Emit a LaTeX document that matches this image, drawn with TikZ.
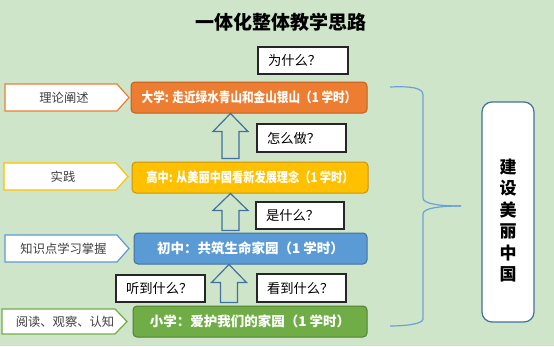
\documentclass[tikz,border=0pt]{standalone}
\usepackage{fontspec}
\usetikzlibrary{calc}
\setmainfont{Noto Sans CJK SC}
\definecolor{bgc}{RGB}{207,229,201}
\definecolor{orangeF}{RGB}{237,125,49}
\definecolor{orangeD}{RGB}{190,95,35}
\definecolor{yellowF}{RGB}{255,192,0}
\definecolor{yellowD}{RGB}{200,150,10}
\definecolor{blueF}{RGB}{91,155,213}
\definecolor{blueD}{RGB}{65,113,156}
\definecolor{greenF}{RGB}{112,173,71}
\definecolor{greenD}{RGB}{80,126,50}
\definecolor{txtgray}{RGB}{64,64,64}
\definecolor{arrowc}{RGB}{65,113,156}
\definecolor{bracec}{RGB}{110,160,215}
\begin{document}
\begin{tikzpicture}[x=1pt,y=-1pt,
  mainbox/.style={rounded corners=4pt, line width=1pt, minimum height=31pt, inner sep=0pt, text=white, font=\fontsize{13.5}{15}\selectfont\bfseries},
  pent/.style={fill=white, line width=1.2pt},
  ptext/.style={text=txtgray, font=\fontsize{12.3}{14}\selectfont, inner sep=0pt},
  qbox/.style={draw=black!85, line width=1.2pt, fill=white, inner sep=0pt, align=left, font=\fontsize{13.3}{15}\selectfont},
  barrow/.style={draw=arrowc, line width=1.2pt, line join=miter},
  bracel/.style={draw=bracec, line width=1.2pt}]
\fill[bgc] (0,0) rectangle (554,346);
\useasboundingbox (0,0) rectangle (554,346);

% title
\node[font=\fontsize{19}{21}\selectfont\bfseries] (title) at (281,22) {一体化整体教学思路};

% main boxes
\node[mainbox, fill=orangeF, draw=orangeD, minimum width=236pt] (daxue) at (249,97.5)
  {\scalebox{0.86}[1]{\fontsize{13.5}{15}\selectfont 大学: 走近绿水青山和金山银山（1 学时）}};
\node[mainbox, fill=yellowF, draw=yellowD, minimum width=236pt] (gaozhong) at (250,177.5)
  {\scalebox{0.83}[1]{\fontsize{13.5}{15}\selectfont 高中: 从美丽中国看新发展理念（1 学时）}};
\node[mainbox, fill=blueF, draw=blueD, minimum width=233pt] (chuzhong) at (250.5,248.5)
  {初中：共筑生命家园（1 学时）};
\node[mainbox, fill=greenF, draw=greenD, minimum width=234pt] (xiaoxue) at (250,321.5)
  {小学：爱护我们的家园（1 学时）};

% left pentagons
\draw[pent, draw=orangeF] (5,84) -- (117,84) -- (129,97.5) -- (117,111) -- (5,111) -- cycle;
\node[ptext] (p1) at (64,97.5) {理论阐述};
\draw[pent, draw=yellowF] (4,163) -- (116,163) -- (128,176.5) -- (116,190) -- (4,190) -- cycle;
\node[ptext] (p2) at (63,176.5) {实践};
\draw[pent, draw=blueF] (5,235) -- (117,235) -- (129,248.5) -- (117,262) -- (5,262) -- cycle;
\node[ptext] (p3) at (63.5,248.5) {知识点学习掌握};
\draw[pent, draw=greenF] (2,309) -- (115,309) -- (127,321.5) -- (115,334) -- (2,334) -- cycle;
\node[ptext] (p4) at (65,321.5) {阅读、观察、认知};

% block arrows
\coordinate (t1) at (230.5,0 |- daxue.south);
\coordinate (b1) at (230.5,0 |- gaozhong.north);
\draw[barrow] (t1) -- ++(17.5,18) -- ++(-9,0) -- ($(b1)+(8.5,-3)$) -- ($(b1)+(-8.5,-3)$) |- ($(t1)+(-17.5,18)$) -- cycle;
\coordinate (t2) at (230.5,0 |- gaozhong.south);
\coordinate (b2) at (230.5,0 |- chuzhong.north);
\draw[barrow] (t2) -- ++(17.5,17) -- ++(-9,0) -- ($(b2)+(8.5,-2)$) -- ($(b2)+(-8.5,-2)$) |- ($(t2)+(-17.5,17)$) -- cycle;
\coordinate (t3) at (229,0 |- chuzhong.south);
\coordinate (b3) at (229,0 |- xiaoxue.north);
\draw[barrow] (t3) -- ++(17.5,18) -- ++(-9,0) -- ($(b3)+(8.5,-3)$) -- ($(b3)+(-8.5,-3)$) |- ($(t3)+(-17.5,18)$) -- cycle;

% question boxes
\node[qbox, minimum width=90pt, minimum height=27pt, text width=70pt] (q1) at (303,60.5) {为什么？};
\node[qbox, minimum width=89pt, minimum height=28pt, text width=69pt] (q2) at (301.5,138) {怎么做？};
\node[qbox, minimum width=88pt, minimum height=27pt, text width=68pt] (q3) at (300,215.5) {是什么？};
\node[qbox, minimum width=89pt, minimum height=27pt, text width=69pt] (q4) at (160.5,288.5) {听到什么？};
\node[qbox, minimum width=89pt, minimum height=28pt, text width=69pt] (q5) at (301.5,288) {看到什么？};

% brace
\draw[bracel] (390,87) .. controls (412,86) and (423,88) .. (423,95) -- (423,198)
  .. controls (423,204) and (440,206) .. (461,206);
\draw[bracel] (461,206) .. controls (440,206) and (423,208) .. (423,214) -- (423,319)
  .. controls (423,324) and (405,326) .. (390,326);

% right box
\node[draw=blueD, line width=1.2pt, fill=white, rounded corners=10pt, minimum width=52pt, minimum height=220pt] (jianshe) at (508,212) {};
\node[align=center, font=\fontsize{17}{21.4}\selectfont\bfseries, inner sep=0pt] (jstext) at (508,220.5) {建\\设\\美\\丽\\中\\国};
\end{tikzpicture}
\end{document}
